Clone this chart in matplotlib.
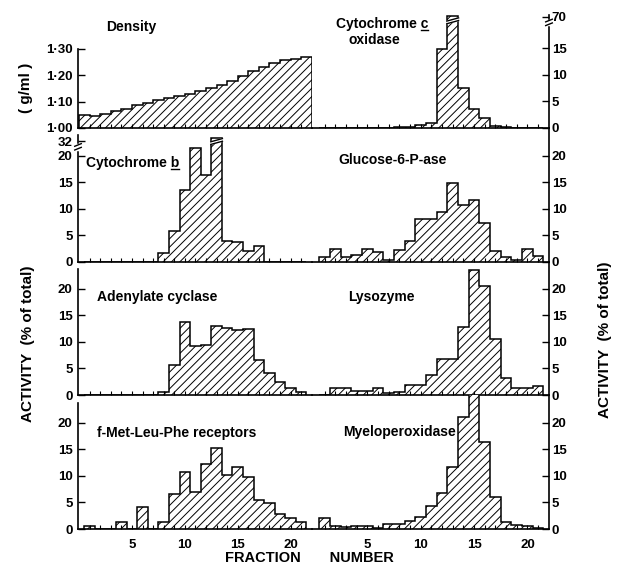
#!/usr/bin/env python3

import numpy as np
import matplotlib
matplotlib.use('Agg')
import matplotlib.pyplot as plt
from matplotlib.lines import Line2D
from matplotlib.transforms import IdentityTransform

plt.rcParams['font.family'] = ['Liberation Sans', 'DejaVu Sans']
plt.rcParams['font.weight'] = 'bold'
plt.rcParams['hatch.linewidth'] = 0.7

W, H = 621, 577

fraction = np.arange(1, 22)
density_fraction = np.arange(1, 23)

density = [1.050, 1.045, 1.053, 1.063, 1.073, 1.085, 1.095, 1.105, 1.113, 1.121, 1.130,
	1.139, 1.151, 1.164, 1.178, 1.195, 1.214, 1.231, 1.246, 1.256, 1.262, 1.268]
cyt_c_oxidase = [0, 0, 0, 0, 0, 0, 0, 0.15, 0.2, 0.6, 0.9, 14.8, 70, 7.5, 3.5, 1.8,
	0.4, 0.2, 0, 0, 0]
cyt_b = [0, 0, 0, 0, 0, 0, 0, 1.7, 5.9, 13.6, 21.5, 16.3, 32, 4.0, 3.7, 2.1, 3.1,
	0, 0, 0, 0]
glucose_6_p_ase = [0.9, 2.4, 0.9, 1.3, 2.4, 1.9, 0.3, 2.3, 3.9, 8.0, 8.0, 9.4, 14.8,
	10.7, 11.6, 7.3, 2.1, 1.0, 0.3, 2.5, 1.2]
adenylate_cyclase = [0, 0, 0, 0, 0, 0, 0, 0.5, 5.6, 13.8, 9.2, 9.4, 13.0, 12.6, 12.3,
	12.4, 6.5, 4.2, 2.4, 1.25, 0.6]
lysozyme = [0, 1.4, 1.4, 0.7, 0.7, 1.4, 0.3, 0.6, 1.9, 1.9, 3.7, 6.7, 6.7, 12.8, 23.5,
	20.5, 10.5, 3.2, 1.3, 1.3, 1.7]
fmlp_receptors = [0.5, 0, 0, 1.4, 0, 4.1, 0, 1.4, 6.5, 10.7, 6.9, 12.3, 15.3, 10.1,
	11.6, 9.7, 5.5, 4.8, 2.8, 2.0, 1.4]
myeloperoxidase = [2.0, 0.5, 0.4, 0.5, 0.6, 0.1, 1.0, 1.0, 1.5, 2.3, 4.3, 6.8, 11.7,
	21.0, 26.0, 16.4, 6.0, 1.4, 0.7, 0.5, 0.2]

x_labelled = [5, 10, 15, 20]
activity_ticks = [0, 5, 10, 15, 20]
density_ticks = [1.00, 1.10, 1.20, 1.30]

fig = plt.figure(figsize=(W / 100, H / 100), dpi=100)


def px_axes(x0, x1, top, bottom):
	return fig.add_axes([x0 / W, 1 - bottom / H, (x1 - x0) / W, (bottom - top) / H])


def px_text(x, y, s, **kw):
	kw.setdefault('fontsize', 10)
	kw.setdefault('ha', 'left')
	kw.setdefault('va', 'center')
	return fig.text(x / W, 1 - y / H, s, **kw)


def panel(ax, side, frac, values, baseline=0, cap=None, bottom_row=False, edge=False):
	vals = np.asarray(values, float)
	if cap is not None:
		vals = np.minimum(vals, cap)
	if edge:
		edges = np.append(frac - 1, frac[-1])
	else:
		edges = np.append(frac - 0.5, frac[-1] + 0.5)
	ax.stairs(vals, edges, baseline=baseline, fill=True, facecolor='white',
		edgecolor='black', hatch='////', linewidth=1.1)
	ax.spines['top'].set_visible(False)
	ax.spines['right' if side == 'left' else 'left'].set_visible(False)
	for s in ['bottom', side]:
		ax.spines[s].set_linewidth(1.2)
	if side == 'left':
		ax.yaxis.tick_left()
		ax.tick_params(axis='y', direction='in', length=5, width=1, pad=4, labelsize=9.5)
	else:
		ax.yaxis.tick_right()
		ax.tick_params(axis='y', direction='in', length=5, width=1, pad=2, labelsize=9.5)
	ax.set_xticks(fraction)
	ax.tick_params(axis='x', direction='in', length=3, width=0.8, labelsize=9.5, pad=7)
	if bottom_row:
		ax.set_xticklabels([str(f) if f in x_labelled else '' for f in fraction])
	else:
		ax.tick_params(axis='x', labelbottom=False)
	ax.patch.set_alpha(0)


def spine_break(ax, xa, y0, y1):
	tr = ax.get_yaxis_transform()
	ax.plot([xa, xa], [y0, y1], color='white', lw=2.5, transform=tr, clip_on=False, zorder=5)
	for y in (y0, y1):
		ax.plot([xa - 0.014, xa + 0.014], [y - 0.25, y + 0.25], color='black', lw=1,
			transform=tr, clip_on=False, zorder=6)


def bar_break(ax, f, y0, gap=0.5):
	xs = [f - 0.55, f + 0.55]
	ax.fill([xs[0], xs[1], xs[1], xs[0]], [y0 - 0.3, y0 + 0.3, y0 + 0.3 + gap, y0 - 0.3 + gap],
		color='white', zorder=4)
	for dy in (0, gap):
		ax.plot(xs, [y0 - 0.3 + dy, y0 + 0.3 + dy], color='black', lw=1, zorder=5)


left_x = (78, 312)
right_x = (312, 549)
rows = [(15, 128), (128, 262), (262, 395), (395, 529)]
px_per_unit = 5.32
left_xlim = ((78 - 79.2) / 10.57, (312 - 79.2) / 10.57)
right_xlim = ((312 - 314) / 10.67, (549 - 314) / 10.67)

# row 1: density / cytochrome c oxidase
top_h = rows[0][1] - rows[0][0]
ax = px_axes(*left_x, *rows[0])
panel(ax, 'left', density_fraction, density, baseline=1.0, edge=True)
ax.set_xlim(left_xlim)
ax.set_ylim(1.0, 1.0 + top_h / 265.0)
ax.set_yticks(density_ticks)
ax.set_yticklabels([('%.2f' % v).replace('.', '\u00b7') for v in density_ticks])
ax.spines['left'].set_bounds(1.0, 1.30)

ax = px_axes(*right_x, *rows[0])
panel(ax, 'right', fraction, cyt_c_oxidase, cap=21.0)
ax.set_xlim(right_xlim)
ax.set_ylim(0, top_h / px_per_unit)
ax.set_yticks([0, 5, 10, 15, 20.9])
ax.set_yticklabels(['0', '5', '10', '15', '70'])
spine_break(ax, 1, 19.5, 20.2)
bar_break(ax, 13, 19.9)

# rows 2-4
panels = [
	(cyt_b, glucose_6_p_ase),
	(adenylate_cyclase, lysozyme),
	(fmlp_receptors, myeloperoxidase),
]
for i, (lv, rv) in enumerate(panels):
	top, bottom = rows[i + 1]
	ylim = (0, (bottom - top) / px_per_unit)
	last = i == len(panels) - 1

	ax = px_axes(*left_x, top, bottom)
	panel(ax, 'left', fraction, lv, cap=23.4 if i == 0 else None, bottom_row=last)
	ax.set_xlim(left_xlim)
	ax.set_ylim(ylim)
	if i == 0:
		ax.set_yticks(activity_ticks + [22.7])
		ax.set_yticklabels([str(t) for t in activity_ticks] + ['32'])
		ax.spines['left'].set_bounds(0, 23.8)
		spine_break(ax, 0, 21.3, 22.0)
		bar_break(ax, 13, 22.4)
	else:
		ax.set_yticks(activity_ticks)
		ax.spines['left'].set_bounds(0, 23.6)

	ax = px_axes(*right_x, top, bottom)
	panel(ax, 'right', fraction, rv, bottom_row=last)
	ax.set_xlim(right_xlim)
	ax.set_ylim(ylim)
	ax.set_yticks(activity_ticks)

# panel names
px_text(106, 27, 'Density')
t_c = px_text(336, 24, 'Cytochrome c')
px_text(348, 40, 'oxidase')
t_b = px_text(86, 163, 'Cytochrome b')
px_text(338, 160, 'Glucose-6-P-ase')
px_text(97, 297, 'Adenylate cyclase')
px_text(348, 297, 'Lysozyme')
px_text(97, 433, 'f-Met-Leu-Phe receptors')
px_text(343, 432, 'Myeloperoxidase')

# axis titles
px_text(26, 88, '( g/ml )', rotation=90, ha='center', fontsize=11)
px_text(28, 344, 'ACTIVITY  (% of total)', rotation=90, ha='center', fontsize=11)
px_text(605, 340, 'ACTIVITY  (% of total)', rotation=90, ha='center', fontsize=11)
px_text(309, 558, 'FRACTION       NUMBER', ha='center', fontsize=10.5)

# underline the last letter of the cytochrome names
fig.canvas.draw()
renderer = fig.canvas.get_renderer()
for t in (t_c, t_b):
	bb = t.get_window_extent(renderer)
	tmp = fig.text(0, 0, t.get_text()[-1], fontsize=t.get_fontsize())
	w = tmp.get_window_extent(renderer).width
	tmp.remove()
	fig.add_artist(Line2D([bb.x1 - w, bb.x1], [bb.y0 + 1, bb.y0 + 1], color='black',
		lw=1, transform=IdentityTransform()))

fig.savefig('out.png', dpi=100)
